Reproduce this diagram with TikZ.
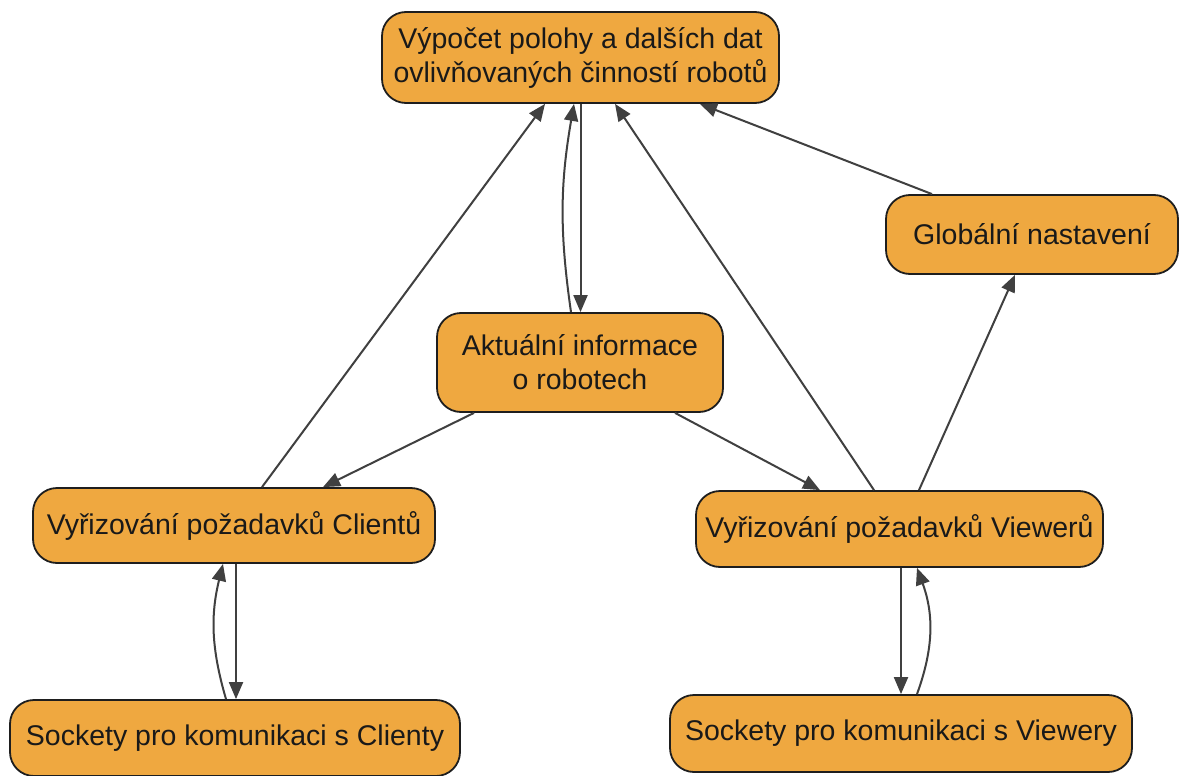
\documentclass[tikz,border=0pt]{standalone}
\usepackage{fontspec}
\setmainfont{Liberation Sans}
\usetikzlibrary{arrows.meta}
\definecolor{boxfill}{HTML}{EFA840}
\definecolor{boxline}{HTML}{1E1E1E}
\definecolor{arrline}{HTML}{404040}
\begin{document}
\begin{tikzpicture}[x=1pt,y=-1pt,
  box/.style={draw=boxline,line width=1.8pt,fill=boxfill,rounded corners=24pt,
    align=center,inner sep=0pt,text=black!90,
    font=\fontsize{28.5}{34}\selectfont},
  conn/.style={draw=arrline,line width=2pt,-{Triangle[length=17pt,width=14pt]}}]
\useasboundingbox (0,0) rectangle (1181,776);
\fill[white] (0,0) rectangle (1181,776);

\node[box,minimum width=397pt,minimum height=91pt] (top) at (580.5,57.5)
  {Výpočet polohy a dalších dat\\ovlivňovaných činností robotů};
\node[box,minimum width=292pt,minimum height=79pt] (glob) at (1032,234.5)
  {Globální nastavení};
\node[box,minimum width=286pt,minimum height=99pt] (akt) at (580,362.5)
  {Aktuální informace\\o robotech};
\node[box,minimum width=402pt,minimum height=75pt] (cli) at (234,525.5)
  {Vyřizování požadavků Clientů};
\node[box,minimum width=407pt,minimum height=76pt] (view) at (899.5,529)
  {Vyřizování požadavků Viewerů};
\node[box,minimum width=450pt,minimum height=76pt] (sockc) at (235,738)
  {Sockety pro komunikaci s Clienty};
\node[box,minimum width=462pt,minimum height=77pt] (sockv) at (901,733.5)
  {Sockety pro komunikaci s Viewery};

% into top box
\draw[conn] ([xshift=28pt]cli.north) -- ([xshift=-35.5pt]top.south);
\draw[conn] ([xshift=-9pt]akt.north) to[bend left=9] ([xshift=-6.5pt]top.south);
\draw[conn] ([xshift=0pt]top.south) -- ([xshift=0.5pt]akt.north);
\draw[conn] ([xshift=-25.5pt]view.north) -- ([xshift=34.5pt]top.south);
\draw[conn] ([xshift=-100pt]glob.north) -- ([xshift=119.5pt]top.south);

% from aktualni
\draw[conn] ([xshift=-106pt]akt.south) -- ([xshift=89pt]cli.north);
\draw[conn] ([xshift=95pt]akt.south) -- ([xshift=-79.5pt]view.north);

% viewer to global
\draw[conn] ([xshift=19.5pt]view.north) -- ([xshift=-17pt]glob.south);

% clients <-> sockets
\draw[conn] ([xshift=2pt]cli.south) -- ([xshift=1pt]sockc.north);
\draw[conn] ([xshift=-9pt]sockc.north) to[bend left=15] ([xshift=-11pt]cli.south);

% viewers <-> sockets
\draw[conn] ([xshift=1.5pt]view.south) -- ([xshift=0pt]sockv.north);
\draw[conn] ([xshift=16pt]sockv.north) to[bend right=20] ([xshift=17.5pt]view.south);
\end{tikzpicture}
\end{document}
